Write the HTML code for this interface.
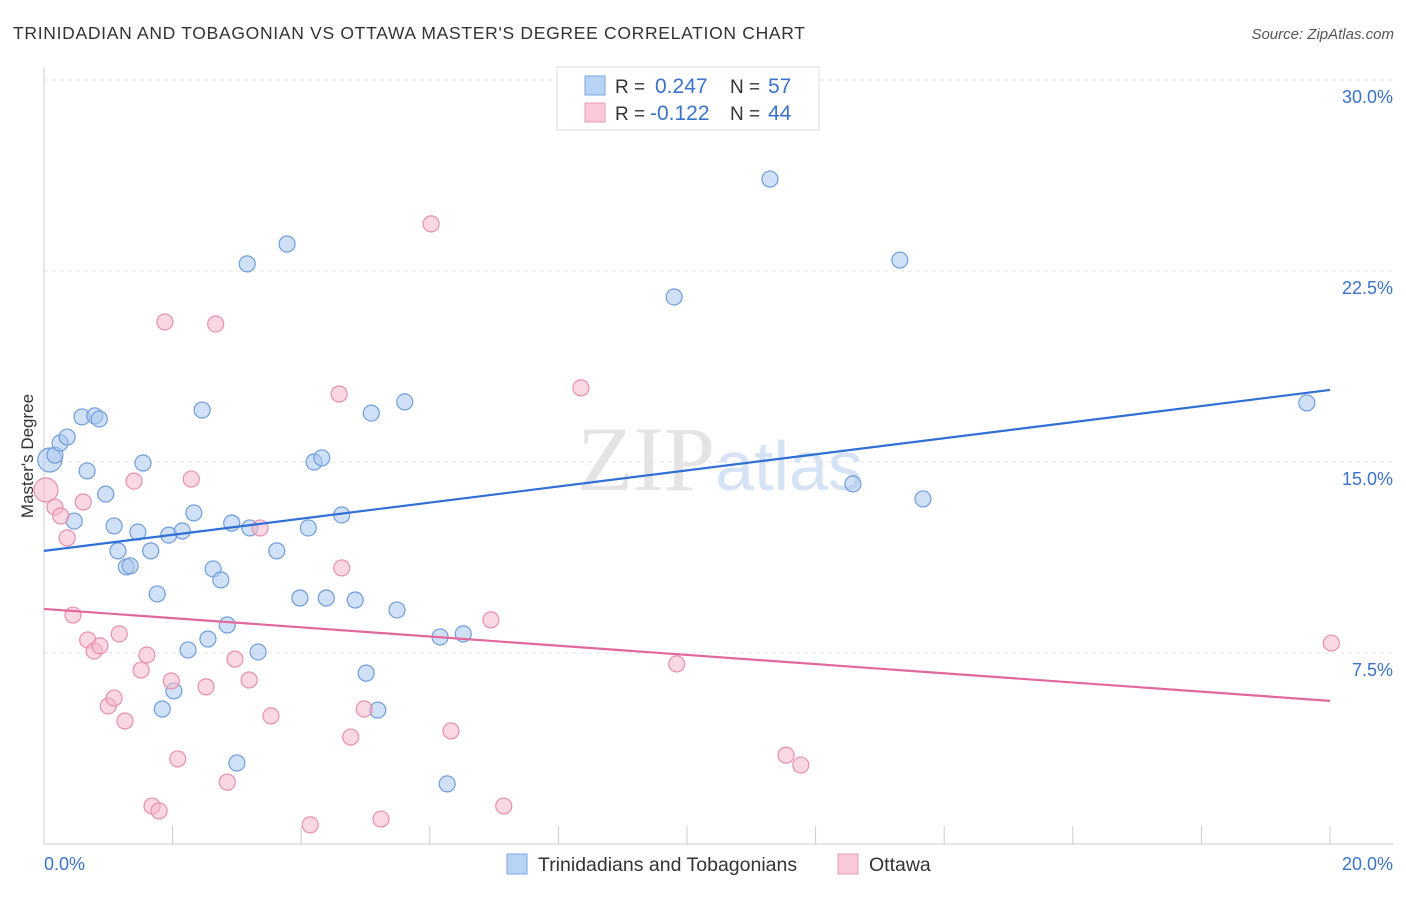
<!DOCTYPE html>
<html><head><meta charset="utf-8"><style>
body{margin:0;background:#fff;font-family:"Liberation Sans",sans-serif}
</style></head><body>
<svg width="1406" height="892" xmlns="http://www.w3.org/2000/svg" font-family="Liberation Sans, sans-serif">
<text x="13" y="39" font-size="17.5" fill="#333" textLength="792">TRINIDADIAN AND TOBAGONIAN VS OTTAWA MASTER'S DEGREE CORRELATION CHART</text>
<text x="1394" y="39" font-size="15" fill="#555" text-anchor="end" font-style="italic">Source: ZipAtlas.com</text>
<g id="grid"></g>
<text x="720" y="490" font-size="92" text-anchor="middle" fill="#e4e4e4" font-family="Liberation Serif, serif">ZIP<tspan fill="#d6e3f5" font-family="Liberation Sans, sans-serif" font-size="70">atlas</tspan></text>
<g id="pts"></g>
<g id="trend"></g>
<text transform="translate(33,456) rotate(-90)" font-size="17" fill="#333" text-anchor="middle">Master's Degree</text>
<g>
<rect x="557" y="67" width="262" height="63" fill="#fff" stroke="#ddd"/>
<rect x="585" y="76" width="20" height="19" fill="#b9d3f5" stroke="#7aa6e0"/>
<rect x="585" y="103" width="20" height="19" fill="#f9c9d8" stroke="#e99ab4"/>
<text x="615" y="93" font-size="19" fill="#333">R =</text>
<text x="655" y="93" font-size="21" fill="#3b73c9">0.247</text>
<text x="730" y="93" font-size="19" fill="#333">N =</text>
<text x="768" y="93" font-size="21" fill="#3b73c9">57</text>
<text x="615" y="120" font-size="19" fill="#333">R =</text>
<text x="650" y="120" font-size="21" fill="#3b73c9">-0.122</text>
<text x="730" y="120" font-size="19" fill="#333">N =</text>
<text x="768" y="120" font-size="21" fill="#3b73c9">44</text>
</g>
<g>
<rect x="507" y="854" width="20" height="20" fill="#b9d3f5" stroke="#7aa6e0"/>
<text x="538" y="871" font-size="19.5" fill="#333">Trinidadians and Tobagonians</text>
<rect x="838" y="854" width="20" height="20" fill="#f9c9d8" stroke="#e99ab4"/>
<text x="869" y="871" font-size="19.5" fill="#333">Ottawa</text>
</g>
</svg>
<script>
const blueX=[.09,.17,.25,.36,.59,.79,.86,.67,.96,.47,1.09,1.46,1.54,1.15,1.28,1.34,1.66,1.76,1.94,2.15,2.33,2.46,2.63,2.75,2.92,3.20,3.62,4.11,4.20,4.32,4.63,3.98,4.39,4.84,5.09,5.61,5.49,3.16,3.78,2.24,2.55,2.85,3.33,2.02,1.84,3.00,5.01,5.19,6.27,6.16,6.52,9.80,11.29,12.58,13.31,13.67,19.64];
const blueY=[15.08,15.27,15.75,15.98,16.77,16.81,16.69,14.65,13.74,12.68,12.49,12.25,14.96,11.51,10.88,10.92,11.51,9.82,12.13,12.29,13.00,17.04,10.80,10.37,12.60,12.41,11.51,12.41,15.00,15.16,12.92,9.66,9.66,9.58,16.92,17.36,9.19,22.78,23.56,7.62,8.05,8.60,7.54,6.01,5.30,3.18,6.71,5.26,2.36,8.13,8.25,21.48,26.11,14.14,22.93,13.55,17.32];
const pinkX=[.03,.17,.26,.36,.61,.45,.68,.78,.87,1.17,1.40,1.00,1.09,1.26,1.51,1.60,1.98,1.88,2.29,2.67,2.52,2.97,3.19,3.36,3.53,2.08,1.68,1.79,2.85,4.14,4.59,4.63,4.77,4.98,5.24,6.02,6.33,6.95,7.15,8.35,9.84,11.54,11.77,20.02];
const pinkY=[13.90,13.23,12.88,12.02,13.43,8.99,8.01,7.58,7.78,8.25,14.25,5.42,5.73,4.83,6.83,7.42,6.40,20.50,14.33,20.42,6.17,7.26,6.44,12.41,5.03,3.34,1.49,1.30,2.43,.75,17.67,10.84,4.20,5.30,.98,24.35,4.44,8.80,1.49,17.91,7.07,3.49,3.10,7.89];
const blueTrend=[11.51,17.83];
const pinkTrend=[9.23,5.62];
const yTicks=[7.5,15,22.5,30];
const yTickLabels=["7.5%","15.0%","22.5%","30.0%"];
const xTicks=[0,2,4,6,8,10,12,14,16,18,20];
const NS='http://www.w3.org/2000/svg';
const sx=v=>44+v/20*1286, sy=v=>844-v/7.5*191;
function mk(t,a,p){const e=document.createElementNS(NS,t);for(const k in a)e.setAttribute(k,a[k]);p.appendChild(e);return e;}
const g=document.getElementById('grid');
yTicks.forEach((t,i)=>{
 const l=mk('line',{x1:44,x2:1393,y1:sy(t),y2:sy(t),stroke:'#e3e3e3','stroke-dasharray':'4,4'},g);
 
 
 const tx=mk('text',{x:1393,y:sy(t)+23,'font-size':18,fill:'#3b73c9','text-anchor':'end'},g);
 tx.textContent=yTickLabels[i];
 
 
});
const ax=mk('line',{x1:44,x2:1393,y1:844,y2:844,stroke:'#ccc'},g);


const ay=mk('line',{x1:44,x2:44,y1:68,y2:844,stroke:'#ccc'},g);


xTicks.forEach(t=>{const l=mk('line',{x1:sx(t),x2:sx(t),y1:826,y2:844,stroke:'#ccc'},g);
 
 });
const x0=mk('text',{x:44,y:870,'font-size':18,fill:'#3b73c9'},g);x0.textContent='0.0%';


const x1=mk('text',{x:1393,y:870,'font-size':18,fill:'#3b73c9','text-anchor':'end'},g);x1.textContent='20.0%';


const P=document.getElementById('pts');
function pts(X,Y,fill,stroke,name){X.forEach((x,i)=>{const big=x<0.12;
 const c=mk('circle',{cx:sx(x),cy:sy(Y[i]),r:big?12:8,fill:fill,'fill-opacity':0.55,stroke:stroke,'stroke-width':1.2},P);
 
 });}
pts(blueX,blueY,'#a9c6ef','#6f9ddc','point-trinidadian');
pts(pinkX,pinkY,'#f5b8cb','#e88fac','point-ottawa');
const T=document.getElementById('trend');
const bl=mk('line',{x1:sx(0),y1:sy(blueTrend[0]),x2:sx(20),y2:sy(blueTrend[1]),stroke:'#2f6fd6','stroke-width':2.2},T);


const pl=mk('line',{x1:sx(0),y1:sy(pinkTrend[0]),x2:sx(20),y2:sy(pinkTrend[1]),stroke:'#e2679a','stroke-width':2.2},T);


</script>
</body></html>
